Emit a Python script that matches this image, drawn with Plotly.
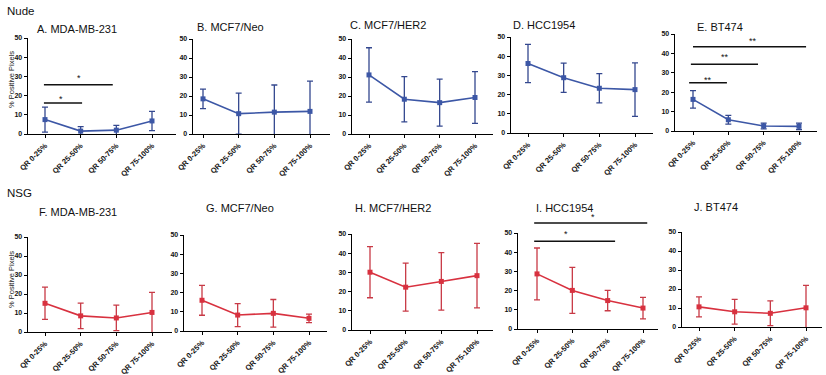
import plotly.graph_objects as go

W, H = 826, 375

categories = ["QR 0-25%", "QR 25-50%", "QR 50-75%", "QR 75-100%"]
y_ticks = [0, 10, 20, 30, 40, 50]

titles = ["A. MDA-MB-231", "B. MCF7/Neo", "C. MCF7/HER2", "D. HCC1954", "E. BT474",
          "F. MDA-MB-231", "G. MCF7/Neo", "H. MCF7/HER2", "I. HCC1954", "J. BT474"]

A_mean = [7.5, 1.5, 2.0, 6.8];     A_err = [6.5, 2.3, 2.5, 5.0]
B_mean = [18.5, 10.7, 11.5, 11.9]; B_err = [5.1, 10.8, 14.3, 15.9]
C_mean = [31.1, 18.3, 16.5, 19.2]; C_err = [14.3, 11.9, 12.4, 13.6]
D_mean = [36.2, 28.8, 23.3, 22.6]; D_err = [10.0, 7.6, 7.6, 13.9]
E_mean = [16.3, 5.8, 2.6, 2.4];    E_err = [4.5, 2.3, 1.5, 1.7]
F_mean = [15.1, 8.5, 7.4, 10.3];   F_err = [8.5, 6.7, 6.7, 10.6]
G_mean = [16.0, 8.3, 9.2, 6.6];    G_err = [7.8, 6.0, 7.2, 2.2]
H_mean = [30.1, 22.3, 25.3, 28.3]; H_err = [13.3, 12.5, 15.0, 16.8]
I_mean = [28.7, 20.1, 14.8, 10.9]; I_err = [13.5, 12.0, 5.3, 5.6]
J_mean = [10.6, 8.0, 7.2, 10.1];   J_err = [5.3, 6.5, 6.5, 11.8]

means = [A_mean, B_mean, C_mean, D_mean, E_mean, F_mean, G_mean, H_mean, I_mean, J_mean]
errs = [A_err, B_err, C_err, D_err, E_err, F_err, G_err, H_err, I_err, J_err]

# significance brackets: (panel index, x0, x1, y, star x, star y, label)
sig_brackets = [
    (0, -0.03, 1.04, 16.1, 0.45, 19.6, "*"),
    (0, -0.03, 1.90, 25.7, 0.95, 30.9, "*"),
    (4, -0.11, 0.96, 24.9, 0.42, 28.0, "**"),
    (4, -0.06, 1.84, 34.4, 0.90, 39.9, "**"),
    (4, 0.00, 3.20, 43.4, 1.70, 48.0, "**"),
    (8, -0.08, 2.21, 45.7, 0.82, 50.9, "*"),
    (8, -0.08, 3.12, 55.2, 1.59, 59.9, "*"),
]

# layout geometry (pixels): y-axis x, first cat x, last cat x, axis right end, top (50), bottom (0)
geom = [
    (28, 45, 152, 176, 38, 134),
    (193, 203, 310, 330, 39, 134),
    (352, 369, 475, 493, 39, 134),
    (511, 528, 635, 653, 37, 133),
    (675, 693, 799, 817, 34, 131),
    (28, 45, 152, 172, 237, 332),
    (184, 202, 309, 327, 235, 331),
    (352, 370, 477, 493, 234, 330),
    (518, 537, 643, 658, 233, 329),
    (682, 699, 806, 822, 232, 327),
]
title_pos = [(35, 29), (195, 27), (348, 25), (511, 25), (695, 27),
             (37, 212), (204, 208), (353, 208), (534, 208), (692, 207)]

BLUE = "#3c57a6"
BLUE_ERR = "#34488f"
RED = "#d8313f"
RED_ERR = "#c83a46"
FONT = "Liberation Sans, Arial, sans-serif"

fig = go.Figure()
ranges = []
for i in range(10):
    left, c0, c3, right, top, bot = geom[i]
    sp = (c3 - c0) / 3.0
    xr = [-(c0 - left) / sp, 3 + (right - c3) / sp]
    ranges.append(xr)
    color = BLUE if i < 5 else RED
    ecolor = BLUE_ERR if i < 5 else RED_ERR
    n = i + 1
    xa = "x" if n == 1 else f"x{n}"
    ya = "y" if n == 1 else f"y{n}"
    fig.add_trace(go.Scatter(
        x=list(range(4)), y=means[i], xaxis=xa, yaxis=ya, mode="lines+markers",
        line=dict(color=color, width=1.6),
        marker=dict(color=color, size=5, symbol="square"),
        error_y=dict(type="data", array=errs[i], visible=True, color=ecolor, thickness=1.3, width=3),
        showlegend=False, hoverinfo="skip",
    ))
    xkey = "xaxis" if n == 1 else f"xaxis{n}"
    ykey = "yaxis" if n == 1 else f"yaxis{n}"
    fig.update_layout({
        xkey: dict(domain=[left / W, right / W], range=xr, anchor=ya, automargin=False,
                   tickmode="array", tickvals=list(range(4)), ticktext=categories,
                   tickangle=-45, showgrid=False, zeroline=False, showline=True,
                   linecolor="black", linewidth=1.4, ticks="outside", ticklen=3,
                   tickwidth=1, tickcolor="black", fixedrange=True,
                   tickfont=dict(family=FONT, size=7.5, color="#111", weight="bold")),
        ykey: dict(domain=[1 - bot / H, 1 - top / H], range=[0, 50], anchor=xa, automargin=False,
                   tickmode="array", tickvals=y_ticks, showgrid=False, zeroline=False,
                   showline=True, linecolor="black", linewidth=1.4, ticks="outside",
                   ticklen=3, tickwidth=1, tickcolor="black", fixedrange=True,
                   tickfont=dict(family=FONT, size=7, color="#111", weight="bold")),
    })
    fig.add_annotation(x=title_pos[i][0] / W, y=1 - title_pos[i][1] / H, xref="paper", yref="paper",
                       text=titles[i], showarrow=False, xanchor="left", yanchor="middle",
                       font=dict(family=FONT, size=11, color="#111"))

for (p, x0, x1, yv, sx, sy, lab) in sig_brackets:
    n = p + 1
    xr = ranges[p]
    fx = lambda v: (v - xr[0]) / (xr[1] - xr[0])
    fy = lambda v: v / 50.0
    xd = ("x" if n == 1 else f"x{n}") + " domain"
    yd = ("y" if n == 1 else f"y{n}") + " domain"
    fig.add_shape(type="line", xref=xd, yref=yd, x0=fx(x0), x1=fx(x1), y0=fy(yv), y1=fy(yv),
                  line=dict(color="#111", width=1.5))
    fig.add_annotation(xref=xd, yref=yd, x=fx(sx), y=fy(sy - 1.5), text=lab, showarrow=False,
                       xanchor="center", yanchor="middle",
                       font=dict(family=FONT, size=9, color="#111"))

fig.add_annotation(x=5 / W, y=1 - 11 / H, xref="paper", yref="paper", text="Nude", showarrow=False,
                   xanchor="left", yanchor="middle", font=dict(family=FONT, size=11.5, color="#111"))
fig.add_annotation(x=5 / W, y=1 - 193 / H, xref="paper", yref="paper", text="NSG", showarrow=False,
                   xanchor="left", yanchor="middle", font=dict(family=FONT, size=11.5, color="#111"))
for cy in [80, 280]:
    fig.add_annotation(x=11 / W, y=1 - cy / H, xref="paper", yref="paper", text="% Positive Pixels",
                       showarrow=False, textangle=-90, xanchor="center", yanchor="middle",
                       font=dict(family=FONT, size=7.5, color="#222"))

fig.update_layout(width=W, height=H, margin=dict(l=0, r=0, t=0, b=0, autoexpand=False),
                  paper_bgcolor="white", plot_bgcolor="white")
fig.write_html("out.html", config={"displayModeBar": False, "staticPlot": True},
               post_script="document.body.style.margin='0';document.body.style.overflow='hidden';")
